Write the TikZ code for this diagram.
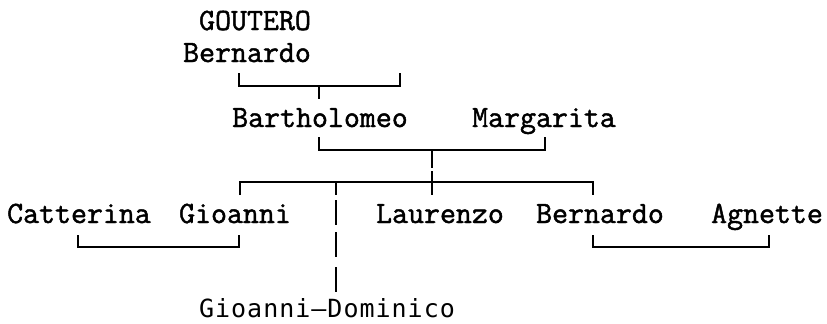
\documentclass[tikz,border=0pt]{standalone}
\usepackage{fontspec}
\usepackage{tikz}
\newfontfamily\famfont[FakeBold=1.5]{Latin Modern Mono}
\newfontfamily\domfont[LetterSpace=4]{DejaVu Sans Mono}
\tikzset{
	person/.style={inner sep=0pt, anchor=base, font=\famfont\fontsize{15.5}{18}\selectfont},
	lineage/.style={line width=1pt},
}

\begin{document}
\begin{tikzpicture}[x=0.5pt, y=-0.5pt]
			\useasboundingbox (0, 0) rectangle (827, 323);
			
			\node[person] (goutero) at (255, 30) {GOUTERO};
			\node[person] (bernardoA) at (247, 62) {Bernardo};
			\node[person] (bartholomeo) at (320, 127) {Bartholomeo};
			\node[person] (margarita) at (544, 127) {Margarita};
			\node[person] (catterina) at (79, 223) {Catterina};
			\node[person] (gioanni) at (235, 223) {Gioanni};
			\node[person] (laurenzo) at (440, 223) {Laurenzo};
			\node[person] (bernardoB) at (600, 223) {Bernardo};
			\node[person] (agnette) at (767, 223) {Agnette};
			\node[inner sep=0pt, anchor=base, font=\domfont\fontsize{12.5}{15}\selectfont] (dominico) at (327, 317) {Gioanni—Dominico};
			
			\coordinate (b1l) at (239, 73);
			\coordinate (b1r) at (400, 73);
			\coordinate (b1m) at (319, 86);
			\coordinate (b1s) at (319, 99);
			\coordinate (b2l) at (319, 137);
			\coordinate (b2r) at (545, 137);
			\coordinate (b2m) at (432, 150);
			\coordinate (bar) at (432, 182);
			\coordinate (laur) at (432, 195);
			\coordinate (kidsL) at (240, 195);
			\coordinate (kidsR) at (593, 195);
			\coordinate (gdtop) at (336, 182);
			\coordinate (gdend) at (336, 292);
			\coordinate (b3l) at (78, 235);
			\coordinate (b3r) at (239, 235);
			\coordinate (b3m) at (160, 247);
			\coordinate (b4l) at (593, 235);
			\coordinate (b4r) at (769, 235);
			\coordinate (b4m) at (680, 247);
			
			\draw[lineage] (b1l) |- (b1m) -| (b1r);
			\draw[lineage] (b1m) -- (b1s);
			\draw[lineage] (b2l) |- (b2m) -| (b2r);
			\draw[lineage, dash pattern=on 9pt off 1.5pt on 12pt off 2pt] (b2m) -- (laur);
			\draw[lineage] (kidsL) |- (bar) -| (kidsR);
			\draw[lineage, dash pattern=on 6.5pt off 2.5pt on 12.5pt off 3.5pt on 12.5pt off 5pt on 12.5pt off 5pt] (gdtop) -- (gdend);
			\draw[lineage] (b3l) |- (b3m) -| (b3r);
			\draw[lineage] (b4l) |- (b4m) -| (b4r);
			
		\end{tikzpicture}
\end{document}
